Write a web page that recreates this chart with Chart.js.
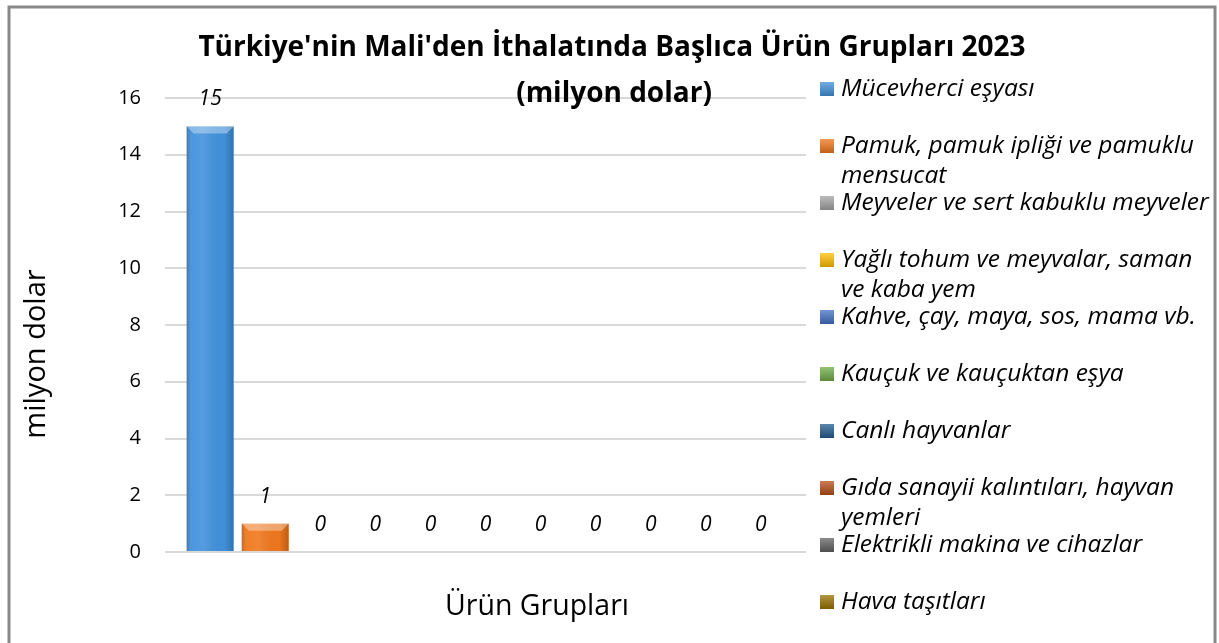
<!DOCTYPE html>
<html>
<head>
<meta charset="utf-8">
<script src="https://cdn.jsdelivr.net/npm/chart.js@4.4.0/dist/chart.umd.min.js"></script>
<style>
  html, body { margin: 0; padding: 0; background: #fff; }
  #wrap { width: 1219px; height: 643px; }
</style>
</head>
<body>
<div id="wrap"><canvas id="myChart" width="1219" height="643"></canvas></div>
<script>
// Verileri
const categories = ['2023'];
const seriesNames = [
  'Mücevherci eşyası',
  ['Pamuk, pamuk ipliği ve pamuklu', 'mensucat'],
  'Meyveler ve sert kabuklu meyveler',
  ['Yağlı tohum ve meyvalar, saman', 've kaba yem'],
  'Kahve, çay, maya, sos, mama vb.',
  'Kauçuk ve kauçuktan eşya',
  'Canlı hayvanlar',
  ['Gıda sanayii kalıntıları, hayvan', 'yemleri'],
  'Elektrikli makina ve cihazlar',
  'Hava taşıtları',
  'Diğer'
];
const values = [15, 1, 0, 0, 0, 0, 0, 0, 0, 0, 0];
const colors = ['#4292DC', '#F0781E', '#A5A5A5', '#FFC000', '#4472C4', '#70AD47',
  '#255E91', '#B8501A', '#636363', '#997300', '#264478'];
const yTicks = [0, 2, 4, 6, 8, 10, 12, 14, 16];

const FONT = '"Open Sans", Lato, sans-serif';

function shade(hex, amt) {
  const n = parseInt(hex.slice(1), 16);
  let r = (n >> 16) & 255, g = (n >> 8) & 255, b = n & 255;
  const f = v => Math.max(0, Math.min(255, Math.round(amt < 0 ? v * (1 + amt) : v + (255 - v) * amt)));
  return `rgb(${f(r)},${f(g)},${f(b)})`;
}

// ------- Eklenti: başlık, etiketler, lejant, çerçeve -------
const extras = {
  id: 'extras',
  beforeDraw(chart) {
    const c = chart.ctx;
    c.save();
    c.fillStyle = '#fff';
    c.fillRect(0, 0, chart.width, chart.height);
    c.restore();
  },
  afterDatasetsDraw(chart) {
    const c = chart.ctx;
    c.save();
    chart.data.datasets.forEach((ds, i) => {
      const meta = chart.getDatasetMeta(i);
      meta.data.forEach((bar, j) => {
        const left = bar.x - bar.width / 2;
        const right = bar.x + bar.width / 2;
        const top = Math.min(bar.y, bar.base);
        const bottom = Math.max(bar.y, bar.base);
        if (bottom - top > 0.5) {
          const g = c.createLinearGradient(left, 0, right, 0);
          g.addColorStop(0, 'rgba(0,0,0,0.18)');
          g.addColorStop(0.12, 'rgba(255,255,255,0.05)');
          g.addColorStop(0.35, 'rgba(255,255,255,0.10)');
          g.addColorStop(0.8, 'rgba(0,0,0,0.02)');
          g.addColorStop(1, 'rgba(0,0,0,0.22)');
          c.fillStyle = g;
          c.fillRect(left, top, bar.width, bottom - top);
          const b = Math.min(7, (bottom - top) / 2);
          c.beginPath();
          c.moveTo(left, top);
          c.lineTo(right, top);
          c.lineTo(right - b, top + b);
          c.lineTo(left + b, top + b);
          c.closePath();
          c.fillStyle = 'rgba(255,255,255,0.35)';
          c.fill();
        }
        c.font = 'italic 21px ' + FONT;
        c.fillStyle = '#000';
        c.textAlign = 'center';
        c.textBaseline = 'middle';
        c.fillText(String(ds.data[j]), bar.x, top - 27);
      });
    });
    c.restore();
  },
  afterDraw(chart) {
    const c = chart.ctx;
    c.save();
    // başlık
    c.fillStyle = '#000';
    c.textAlign = 'center';
    c.textBaseline = 'middle';
    c.font = 'bold 28px ' + FONT;
    c.fillText("Türkiye'nin Mali'den İthalatında Başlıca Ürün Grupları 2023", 612, 48);
    c.fillText('(milyon dolar)', 614, 94);

    // eksen başlıkları
    c.font = '28.5px ' + FONT;
    c.fillText('Ürün Grupları', 537, 607);
    c.save();
    c.font = '29px ' + FONT;
    c.translate(37, 354);
    c.rotate(-Math.PI / 2);
    c.fillText('milyon dolar', 0, 0);
    c.restore();

    // lejant
    let y = 89;
    c.textAlign = 'left';
    c.font = 'italic 24.5px ' + FONT;
    chart.data.datasets.forEach((ds, i) => {
      const lines = Array.isArray(seriesNames[i]) ? seriesNames[i] : [seriesNames[i]];
      const g = c.createLinearGradient(0, y - 7, 0, y + 7);
      g.addColorStop(0, shade(colors[i], 0.25));
      g.addColorStop(1, shade(colors[i], -0.2));
      c.fillStyle = g;
      c.fillRect(820, y - 7, 14, 14);
      c.fillStyle = '#000';
      lines.forEach((ln, k) => c.fillText(ln, 841, y + k * 30));
      y += 57;
    });

    // çerçeve
    c.strokeStyle = '#888';
    c.lineWidth = 3;
    c.strokeRect(9, 7, 1206, 700);
    c.restore();
  }
};

const ctx = document.getElementById('myChart').getContext('2d');
const chart = new Chart(ctx, {
  type: 'bar',
  data: {
    labels: categories,
    datasets: seriesNames.map((name, i) => ({
      label: Array.isArray(name) ? name.join(' ') : name,
      data: [values[i]],
      backgroundColor: colors[i],
      borderWidth: 0,
      categoryPercentage: 0.945,
      barPercentage: 0.853
    }))
  },
  options: {
    responsive: false,
    animation: false,
    devicePixelRatio: 1,
    layout: { padding: { left: 0, top: 98, right: 413, bottom: 91 } },
    plugins: {
      legend: { display: false },
      title: { display: false },
      tooltip: { enabled: false }
    },
    scales: {
      x: {
        ticks: { display: false },
        grid: { display: false },
        border: { display: false },
        afterFit: s => { s.height = 0; }
      },
      y: {
        min: 0,
        max: 16,
        afterBuildTicks: s => { s.ticks = yTicks.map(v => ({ value: v })); },
        afterFit: s => { s.width = 165; },
        ticks: { color: '#000', padding: 24, font: { family: FONT, size: 20 } },
        grid: { color: '#d9d9d9', lineWidth: 2, drawTicks: false },
        border: { display: false }
      }
    }
  },
  plugins: [extras]
});
</script>
</body>
</html>
